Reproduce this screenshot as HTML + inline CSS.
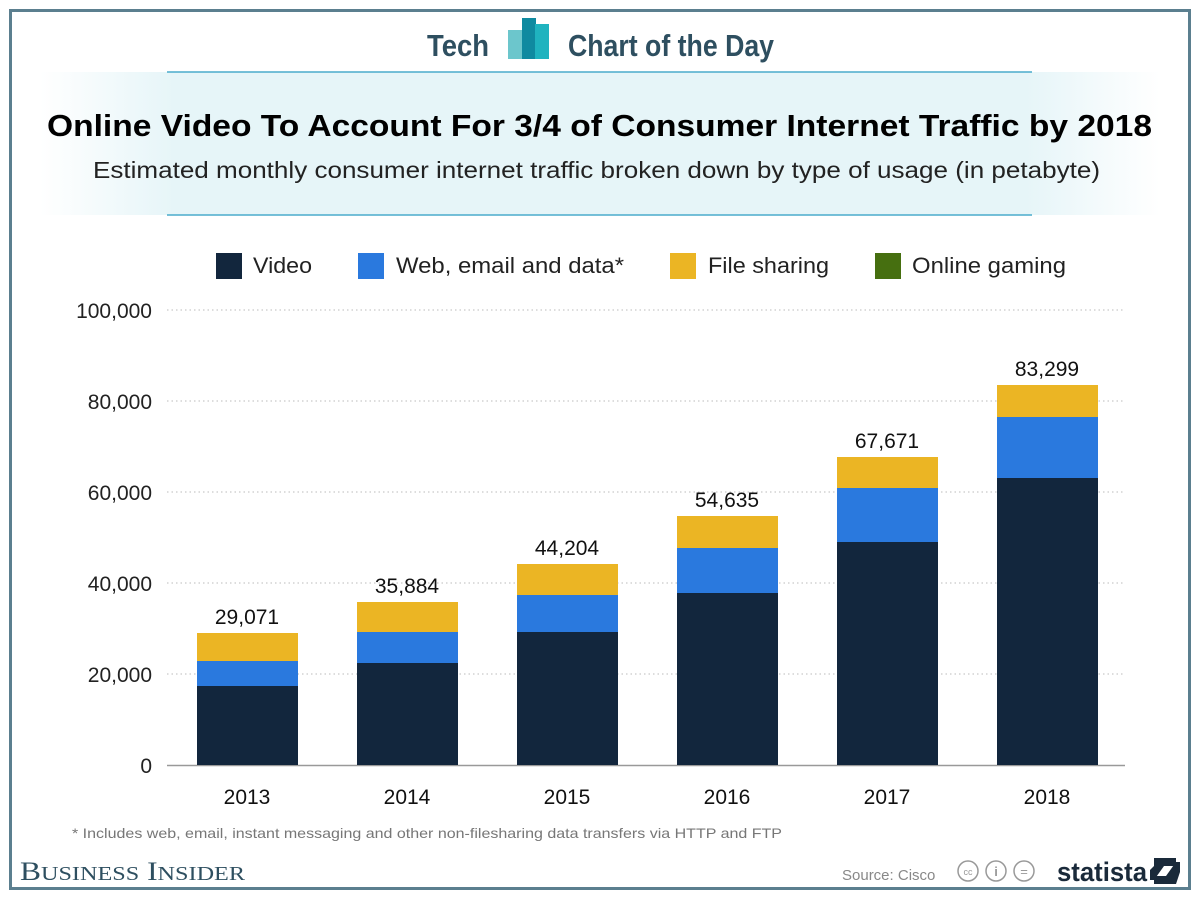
<!DOCTYPE html>
<html><head><meta charset="utf-8"><style>
body{margin:0;width:1200px;height:900px;background:#fff;overflow:hidden}
svg text{font-family:"Liberation Sans",sans-serif}
</style></head><body>
<svg width="1200" height="900" viewBox="0 0 1200 900" xmlns="http://www.w3.org/2000/svg">
<defs>
<linearGradient id="band" x1="0" x2="1" y1="0" y2="0">
<stop offset="0" stop-color="#e6f5f8" stop-opacity="0"/>
<stop offset="0.12" stop-color="#e6f5f8"/>
<stop offset="0.88" stop-color="#e6f5f8"/>
<stop offset="1" stop-color="#e6f5f8" stop-opacity="0"/>
</linearGradient>
</defs>
<rect x="10.5" y="10.5" width="1179" height="878" fill="#fff" stroke="#5b7f8f" stroke-width="3"/>
<rect x="40" y="72" width="1120" height="143" fill="url(#band)"/>
<line x1="167" x2="1032" y1="72" y2="72" stroke="#4aaccc" stroke-width="1.5"/>
<line x1="167" x2="1032" y1="215" y2="215" stroke="#4aaccc" stroke-width="1.5"/>
<text x="427" y="56" font-size="31" font-weight="bold" fill="#2e4f60" textLength="62" lengthAdjust="spacingAndGlyphs">Tech</text>
<rect x="508" y="30" width="18" height="29" fill="#6cc6cc"/>
<rect x="522" y="18" width="14" height="41" fill="#0f8aa0"/>
<rect x="535" y="24" width="14" height="35" fill="#1fb3bf"/>
<text x="568" y="56" font-size="31" font-weight="bold" fill="#2e4f60" textLength="206" lengthAdjust="spacingAndGlyphs">Chart of the Day</text>
<text x="47" y="136" font-size="31" font-weight="bold" fill="#000" textLength="1105" lengthAdjust="spacingAndGlyphs">Online Video To Account For 3/4 of Consumer Internet Traffic by 2018</text>
<text x="93" y="178" font-size="23" fill="#222" textLength="1007" lengthAdjust="spacingAndGlyphs">Estimated monthly consumer internet traffic broken down by type of usage (in petabyte)</text>
<g font-size="22" fill="#222">
<rect x="216" y="253" width="26" height="26" fill="#12263d"/><text x="253" y="273" textLength="59" lengthAdjust="spacingAndGlyphs">Video</text>
<rect x="358" y="253" width="26" height="26" fill="#2a79de"/><text x="396" y="273" textLength="228" lengthAdjust="spacingAndGlyphs">Web, email and data*</text>
<rect x="670" y="253" width="26" height="26" fill="#ebb524"/><text x="708" y="273" textLength="121" lengthAdjust="spacingAndGlyphs">File sharing</text>
<rect x="875" y="253" width="26" height="26" fill="#466f10"/><text x="912" y="273" textLength="154" lengthAdjust="spacingAndGlyphs">Online gaming</text>
</g>
<g stroke="#bbb" stroke-dasharray="1.5,3" stroke-width="1">
<line x1="167" x2="1125" y1="310" y2="310"/>
<line x1="167" x2="1125" y1="401" y2="401"/>
<line x1="167" x2="1125" y1="492" y2="492"/>
<line x1="167" x2="1125" y1="583" y2="583"/>
<line x1="167" x2="1125" y1="674" y2="674"/>
</g>
<line x1="167" x2="1125" y1="765.5" y2="765.5" stroke="#999" stroke-width="1.5"/>
<g font-size="21" fill="#222" text-anchor="end">
<text x="152" y="318">100,000</text>
<text x="152" y="409">80,000</text>
<text x="152" y="500">60,000</text>
<text x="152" y="591">40,000</text>
<text x="152" y="682">20,000</text>
<text x="152" y="773">0</text>
</g>
<g>
<rect x="197" y="686" width="101" height="79" fill="#12263d"/><rect x="197" y="661" width="101" height="25" fill="#2a79de"/><rect x="197" y="633" width="101" height="28" fill="#ebb524"/>
<rect x="357" y="663" width="101" height="102" fill="#12263d"/><rect x="357" y="632" width="101" height="31" fill="#2a79de"/><rect x="357" y="602" width="101" height="30" fill="#ebb524"/>
<rect x="517" y="632" width="101" height="133" fill="#12263d"/><rect x="517" y="595" width="101" height="37" fill="#2a79de"/><rect x="517" y="564" width="101" height="31" fill="#ebb524"/>
<rect x="677" y="593" width="101" height="172" fill="#12263d"/><rect x="677" y="548" width="101" height="45" fill="#2a79de"/><rect x="677" y="516" width="101" height="32" fill="#ebb524"/>
<rect x="837" y="542" width="101" height="223" fill="#12263d"/><rect x="837" y="488" width="101" height="54" fill="#2a79de"/><rect x="837" y="457" width="101" height="31" fill="#ebb524"/>
<rect x="997" y="478" width="101" height="287" fill="#12263d"/><rect x="997" y="417" width="101" height="61" fill="#2a79de"/><rect x="997" y="385" width="101" height="32" fill="#ebb524"/>
</g>
<g font-size="21" fill="#111" text-anchor="middle">
<text x="247" y="624">29,071</text>
<text x="407" y="593">35,884</text>
<text x="567" y="555">44,204</text>
<text x="727" y="507">54,635</text>
<text x="887" y="448">67,671</text>
<text x="1047" y="376">83,299</text>
<text x="247" y="804">2013</text>
<text x="407" y="804">2014</text>
<text x="567" y="804">2015</text>
<text x="727" y="804">2016</text>
<text x="887" y="804">2017</text>
<text x="1047" y="804">2018</text>
</g>
<text x="72" y="838" font-size="14" fill="#777" textLength="710" lengthAdjust="spacingAndGlyphs">* Includes web, email, instant messaging and other non-filesharing data transfers via HTTP and FTP</text>
<text x="20" y="880" font-size="26" fill="#2e4f60" style="font-family:'Liberation Serif',serif" textLength="225" lengthAdjust="spacingAndGlyphs">B<tspan font-size="20">USINESS</tspan> I<tspan font-size="20">NSIDER</tspan></text>
<text x="842" y="880" font-size="15" fill="#888">Source: Cisco</text>
<g fill="none" stroke="#999" stroke-width="1.5">
<circle cx="968" cy="871" r="10"/><circle cx="996" cy="871" r="10"/><circle cx="1024" cy="871" r="10"/>
</g>
<text x="968" y="875" font-size="9" fill="#999" text-anchor="middle">cc</text>
<text x="996" y="876" font-size="13" font-weight="bold" fill="#999" text-anchor="middle">i</text>
<text x="1024" y="876" font-size="13" fill="#999" text-anchor="middle">=</text>
<text x="1057" y="881" font-size="27" font-weight="bold" fill="#1a2a3a" textLength="90" lengthAdjust="spacingAndGlyphs">statista</text>
<path d="M1154 858h22v8h-12l-10 14h-4v-10l4 -4zM1176 884h-22v-8h12l10-14h4v10z" fill="#1a2a3a"/>
</svg>
</body></html>
